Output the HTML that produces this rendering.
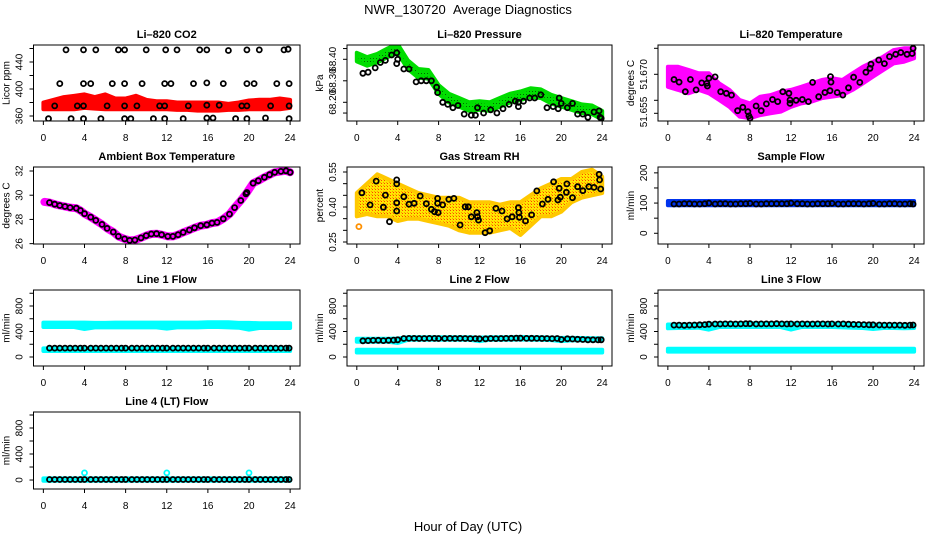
<!DOCTYPE html>
<html><head><meta charset="utf-8"><title>NWR_130720 Average Diagnostics</title>
<style>
html,body{margin:0;padding:0;background:#fff;}
svg{display:block;font-family:"Liberation Sans",Arial,sans-serif;}
</style></head>
<body>
<svg id="chart" width="936" height="540" viewBox="0 0 936 540">
<defs>
<pattern id="greenPat" width="3" height="3" patternUnits="userSpaceOnUse"><rect width="3" height="3" fill="#00e000"/><rect x="1" y="1" width="1" height="1" fill="#006600"/></pattern>
<pattern id="rhPat" width="3" height="3" patternUnits="userSpaceOnUse"><rect width="3" height="3" fill="#ffe600"/><rect width="1" height="1" fill="#ff4000"/><rect x="2" y="2" width="1" height="1" fill="#ff9a00"/></pattern>
</defs>
<text x="468" y="14" text-anchor="middle" font-size="13">NWR_130720 &#160;Average Diagnostics</text>
<text x="468" y="531" text-anchor="middle" font-size="13">Hour of Day (UTC)</text>
</svg>
<script>
// ---------- shared categories ----------
const bandHours = [0,1,2,3,4,5,6,7,8,9,10,11,12,13,14,15,16,17,18,19,20,21,22,23,24];
const flowHours = [0.6,1.1,1.6,2.1,2.6,3.1,3.6,4.0,4.6,5.1,5.6,6.1,6.6,7.1,7.6,8.0,8.6,9.1,9.6,10.1,10.6,11.1,11.6,12.0,12.6,13.1,13.6,14.1,14.6,15.1,15.6,16.0,16.6,17.1,17.6,18.1,18.6,19.1,19.6,20.0,20.6,21.1,21.6,22.1,22.6,23.1,23.6,23.9];
const xTicks = [0,4,8,12,16,20,24];

// ---------- CO2 ----------
const co2Lo = [370,370,370,370,372,371,370,370,370,370,370,370,370,369,369,368,368,368,369,369,370,370,370,370,372];
const co2Hi = [380,384,388,390,392,388,392,386,386,390,384,382,382,380,380,380,380,380,378,380,383,384,384,386,384];
const co2X = [2.2,3.9,5.1,7.3,7.9,10.0,11.9,13.0,15.2,15.9,18.0,19.8,21.0,23.4,23.8, 1.6,3.9,4.6,6.7,7.9,9.6,11.8,12.4,14.6,15.9,17.5,19.8,20.5,22.7,23.9, 1.1,3.3,3.9,6.2,7.9,9.1,11.3,11.8,14.1,15.9,17.1,19.3,19.8,22.1,23.9, 0.5,2.7,3.9,5.6,7.9,8.5,10.7,11.8,13.6,15.9,16.5,18.7,19.8,21.6,23.9];
const co2Y = [458,458,458,458,458,458,458,458,458,458,457,458,458,458,459, 408,408,408,408,408,408,408,408,408,409,408,408,408,408,408, 375,375,375,375,375,375,375,375,375,376,376,375,375,375,375, 356,356,356,356,356,356,356,356,356,357,357,356,356,357,356];

// ---------- Pressure ----------
const presHi = [68.43,68.41,68.425,68.45,68.47,68.395,68.355,68.35,68.28,68.24,68.22,68.20,68.205,68.20,68.22,68.24,68.25,68.265,68.26,68.235,68.22,68.205,68.19,68.185,68.16];
const presLo = [68.39,68.37,68.385,68.41,68.43,68.355,68.315,68.31,68.24,68.20,68.18,68.16,68.165,68.16,68.18,68.20,68.21,68.225,68.22,68.195,68.18,68.165,68.15,68.145,68.12];
const presX = [0.6,1.1,1.8,2.3,2.8,3.4,3.9,3.9,4.0,4.6,5.1,5.8,6.3,6.8,7.3,7.8,7.9,8.4,8.9,9.4,9.9,10.5,11.2,11.6,11.8,12.4,13.1,13.7,14.3,14.9,15.5,15.8,15.8,16.3,16.9,17.4,18.0,18.6,19.2,19.7,19.8,20.0,20.6,21.1,21.6,22.1,22.6,23.2,23.7,23.8,23.9];
const presY = [68.335,68.34,68.36,68.385,68.395,68.42,68.43,68.38,68.40,68.355,68.355,68.295,68.30,68.30,68.30,68.27,68.245,68.20,68.19,68.175,68.185,68.145,68.14,68.14,68.175,68.15,68.165,68.15,68.17,68.19,68.205,68.20,68.18,68.205,68.22,68.22,68.235,68.175,68.18,68.17,68.22,68.195,68.175,68.195,68.145,68.145,68.13,68.155,68.16,68.13,68.125];

// ---------- Li-820 Temperature ----------
const tempHi = [51.6729,51.6729,51.6717,51.6704,51.6704,51.6665,51.6640,51.6601,51.6588,51.6614,51.6620,51.6633,51.6640,51.6652,51.6665,51.6678,51.6685,51.6678,51.6704,51.6729,51.6748,51.6768,51.6793,51.6800,51.6800];
const tempLo = [51.6652,51.6640,51.6627,51.6640,51.6627,51.6601,51.6575,51.6537,51.6531,51.6543,51.6550,51.6556,51.6575,51.6588,51.6595,51.6608,51.6614,51.6620,51.6640,51.6665,51.6691,51.6717,51.6742,51.6748,51.6762];
const tempX = [0.6,1.1,1.7,2.2,2.75,3.3,3.8,3.85,4.0,4.6,5.15,5.7,6.2,6.8,7.3,7.8,7.9,8.0,8.6,9.1,9.6,10.2,10.7,11.2,11.8,11.9,11.9,12.5,13.1,13.7,14.1,14.7,15.3,15.8,15.85,15.9,16.5,17.05,17.6,18.1,18.7,19.3,19.7,19.8,20.55,21.1,21.6,22.2,22.7,23.3,23.8,23.9];
const tempY = [51.6680,51.6670,51.6633,51.6680,51.6640,51.6667,51.6665,51.6655,51.6685,51.6690,51.6633,51.6627,51.6620,51.6560,51.6573,51.6556,51.6540,51.6531,51.6578,51.6560,51.6586,51.6603,51.6595,51.6633,51.6627,51.6601,51.6588,51.6600,51.6603,51.6595,51.6669,51.6614,51.6630,51.6637,51.6691,51.6670,51.6630,51.6620,51.6648,51.6689,51.6669,51.6708,51.6723,51.6739,51.6755,51.6741,51.6768,51.6777,51.6784,51.6777,51.6780,51.6800];

// ---------- Ambient Box Temperature ----------
const ambX = [0.1,0.6,1.1,1.6,2.1,2.6,3.2,3.6,4.0,4.6,5.1,5.7,6.2,6.8,7.3,7.9,8.4,8.9,9.5,10.0,10.5,11.0,11.5,12.1,12.6,13.1,13.6,14.2,14.7,15.3,15.9,16.4,16.9,17.5,18.1,18.6,19.2,19.7,19.8,20.4,20.9,21.5,22.0,22.5,23.1,23.6,24.0];
const ambY = [29.45,29.39,29.26,29.15,29.07,28.98,28.93,28.74,28.47,28.19,27.92,27.59,27.26,26.96,26.60,26.39,26.27,26.30,26.47,26.66,26.80,26.82,26.74,26.60,26.60,26.74,26.93,27.13,27.31,27.48,27.56,27.70,27.75,28.05,28.44,28.98,29.56,30.11,30.22,30.99,31.20,31.48,31.69,31.89,31.97,32.02,31.89];

// ---------- Gas Stream RH ----------
const rhLo = [0.36,0.37,0.36,0.36,0.34,0.35,0.35,0.34,0.33,0.32,0.30,0.29,0.29,0.29,0.30,0.31,0.28,0.32,0.36,0.36,0.38,0.42,0.44,0.45,0.46];
const rhHi = [0.46,0.50,0.54,0.52,0.50,0.48,0.46,0.45,0.44,0.44,0.44,0.42,0.42,0.42,0.41,0.42,0.42,0.45,0.48,0.50,0.52,0.52,0.55,0.56,0.53];
const rhX = [0.5,1.3,1.9,2.6,2.8,3.2,3.9,3.9,3.9,3.9,4.6,5.1,5.6,6.2,6.8,7.3,7.6,7.9,7.9,7.95,8.4,9.0,9.5,10.1,10.6,10.9,11.2,11.75,11.8,11.9,12.55,13.0,13.6,14.2,14.7,15.2,15.8,15.85,15.9,16.5,17.1,17.6,18.15,18.7,19.25,19.67,19.8,19.9,20.5,20.55,21.1,21.6,22.1,22.7,23.2,23.7,23.75,23.85];
const rhY = [0.461,0.409,0.511,0.399,0.451,0.337,0.516,0.499,0.418,0.383,0.444,0.412,0.416,0.447,0.414,0.390,0.380,0.437,0.416,0.376,0.409,0.433,0.437,0.323,0.401,0.401,0.358,0.376,0.358,0.344,0.290,0.298,0.394,0.383,0.349,0.358,0.397,0.376,0.356,0.340,0.366,0.469,0.413,0.433,0.508,0.430,0.480,0.442,0.463,0.499,0.440,0.487,0.470,0.487,0.484,0.540,0.516,0.477];
const rhOutX = [0.2];
const rhOutY = [0.316];

// ---------- Sample Flow ----------
const sampleHi = [107,107,107,107,107,107,107,107,107,107,107,107,107,107,107,107,107,107,107,107,107,107,107,107,107];
const sampleLo = [93,93,93,93,93,93,93,93,93,93,93,93,93,93,93,93,93,93,93,93,93,93,93,93,93];
const sampleBlack = [97,97,98,98,97,97,98,100,97,98,98,97,97,98,98,99,97,97,98,98,98,98,98,100,98,98,97,97,98,98,98,99,97,97,98,98,98,97,98,99,97,97,98,98,97,97,98,97];

// ---------- Line 1 Flow ----------
const line1UpHi = [540,540,540,540,540,535,535,540,540,540,540,540,540,540,540,540,545,545,545,535,535,530,530,530,530];
const line1UpLo = [470,470,470,470,440,465,465,465,465,465,465,465,445,465,465,465,470,470,465,460,430,455,455,455,455];
const line1LoHi = [135,135,135,135,135,135,135,135,135,135,135,135,135,135,135,135,135,135,135,135,135,135,135,135,135];
const line1LoLo = [95,95,95,95,95,95,95,95,95,95,95,95,95,95,95,95,95,95,95,95,95,95,95,95,95];
const line1Black = [140,140,140,140,140,140,140,140,140,140,140,140,140,140,140,140,140,140,140,140,140,140,140,140,140,140,140,140,140,140,140,140,140,140,140,140,140,140,140,140,140,140,140,140,140,140,140,140];

// ---------- Line 2 Flow ----------
const line2UpHi = [285,285,285,285,290,310,310,310,310,310,310,310,305,310,310,310,315,310,310,305,300,300,298,295,295];
const line2UpLo = [240,240,240,240,220,270,270,270,270,270,270,270,250,270,270,270,275,270,270,265,250,260,260,258,258];
const line2LoHi = [115,115,115,115,115,115,115,115,115,115,115,115,115,115,115,115,115,115,115,115,115,115,115,115,115];
const line2LoLo = [70,70,70,70,70,70,70,70,70,70,70,70,70,70,70,70,70,70,70,70,70,70,70,70,70];
const line2Black = [255,258,260,262,258,262,265,270,290,292,292,290,290,292,292,290,290,292,290,292,290,288,288,285,285,290,288,290,292,293,295,295,292,293,292,290,290,288,290,275,285,282,278,275,270,270,268,270];

// ---------- Line 3 Flow ----------
const line3UpHi = [510,510,510,515,520,530,530,530,530,530,530,530,530,530,530,530,530,525,520,515,510,510,510,505,505];
const line3UpLo = [450,455,455,460,430,470,470,470,470,470,470,470,430,470,470,470,470,465,460,455,440,455,455,450,455];
const line3LoHi = [130,130,130,130,130,130,130,130,130,130,130,130,130,130,130,130,130,130,130,130,130,130,130,130,130];
const line3LoLo = [85,85,85,85,85,85,85,85,85,85,85,85,85,85,85,85,85,85,85,85,85,85,85,85,85];
const line3Black = [500,500,498,500,502,505,508,515,518,518,520,520,518,520,522,522,518,520,520,520,522,520,518,520,518,520,518,518,520,520,518,520,518,520,515,512,510,508,505,505,502,500,500,500,500,498,500,502];

// ---------- Line 4 Flow ----------
const line4Hi = [25,25,25,25,25,25,25,25,25,25,25,25,25,25,25,25,25,25,25,25,25,25,25,25,25];
const line4Lo = [-10,-10,-10,-10,-10,-10,-10,-10,-10,-10,-10,-10,-10,-10,-10,-10,-10,-10,-10,-10,-10,-10,-10,-10,-10];
const line4Black = [8,8,8,8,8,8,8,8,8,8,8,8,8,8,8,8,8,8,8,8,8,8,8,8,8,8,8,8,8,8,8,8,8,8,8,8,8,8,8,8,8,8,8,8,8,8,8,8];
const line4CyanX = [4,12,20];
const line4CyanY = [110,110,110];

// ---------- layout ----------
const svg = document.getElementById('chart');
const NS = 'http://www.w3.org/2000/svg';
function mk(tag, attrs, parent){
  const e = document.createElementNS(NS, tag);
  for (const k in attrs) e.setAttribute(k, attrs[k]);
  (parent || svg).appendChild(e);
  return e;
}
const cols = [[33.5,300],[347,612],[658,924]];
const rows = [[45,121],[167,244],[290,366],[412,489]];
const flowTicks = [0,200,400,600,800,1000];
const flowLabels = [[0,'0'],[400,'400'],[800,'800']];

const panels = [
  {key:'co2', title:'Li\u2013820 CO2', ylab:'Licor ppm', c:0, r:0, ymin:352.6, ymax:465.2,
   ticks:[360,380,400,420,440,460], labels:[[360,'360'],[400,'400'],[440,'440']],
   bands:[{lo:co2Lo, hi:co2Hi, fill:'#ff0000', name:'co2-band'}], pts:[{x:co2X, y:co2Y, color:'#000', name:'co2-point'}]},
  {key:'pressure', title:'Li\u2013820 Pressure', ylab:'kPa', c:1, r:0, ymin:68.113, ymax:68.4665,
   ticks:[68.15,68.20,68.30,68.40,68.45], labels:[[68.20,'68.20'],[68.30,'68.30'],[68.40,'68.40']],
   bands:[{lo:presLo, hi:presHi, fill:'url(#greenPat)', stroke:'#00dd00', name:'pressure-band'}], pts:[{x:presX, y:presY, color:'#000', name:'pressure-point'}]},
  {key:'temp', title:'Li\u2013820 Temperature', ylab:'degrees C', c:2, r:0, ymin:51.65204, ymax:51.68127,
   ticks:[51.655,51.660,51.670,51.680], labels:[[51.6555,'51.655'],[51.670,'51.670']],
   bands:[{lo:tempLo, hi:tempHi, fill:'#ff00ff', name:'temperature-band'}], pts:[{x:tempX, y:tempY, color:'#000', name:'temperature-point'}]},
  {key:'ambient', title:'Ambient Box Temperature', ylab:'degrees C', c:0, r:1, ymin:25.97, ymax:32.33,
   ticks:[26,28,30,32], labels:[[26,'26'],[28,'28'],[30,'30'],[32,'32']],
   line:{x:ambX, y:ambY, color:'#ff00ff', name:'ambient-band'}, pts:[{x:ambX.slice(1), y:ambY.slice(1), color:'#000', name:'ambient-point'}]},
  {key:'rh', title:'Gas Stream RH', ylab:'percent', c:1, r:1, ymin:0.2414, ymax:0.5714,
   ticks:[0.25,0.30,0.35,0.40,0.45,0.50,0.55], labels:[[0.25,'0.25'],[0.40,'0.40'],[0.55,'0.55']],
   bands:[{lo:rhLo, hi:rhHi, fill:'url(#rhPat)', stroke:'#ffc800', name:'rh-band'}],
   pts:[{x:rhOutX, y:rhOutY, color:'#ff9000', name:'rh-outlier'},{x:rhX, y:rhY, color:'#000', name:'rh-point'}]},
  {key:'sample', title:'Sample Flow', ylab:'ml/min', c:2, r:1, ymin:-35.5, ymax:219.4,
   ticks:[0,50,100,150,200], labels:[[0,'0'],[100,'100'],[200,'200']],
   bands:[{lo:sampleLo, hi:sampleHi, fill:'#0033ee', name:'sample-flow-band'}], pts:[{x:flowHours, y:sampleBlack, color:'#000', name:'sample-flow-point'}]},
  {key:'line1', title:'Line 1 Flow', ylab:'ml/min', c:0, r:2, ymin:-141, ymax:1051, ticks:flowTicks, labels:flowLabels,
   bands:[{lo:line1UpLo, hi:line1UpHi, fill:'#00ffff', name:'line1-upper-band'},{lo:line1LoLo, hi:line1LoHi, fill:'#00ffff', name:'line1-lower-band'}],
   pts:[{x:flowHours, y:line1Black, color:'#000', name:'line1-point'}]},
  {key:'line2', title:'Line 2 Flow', ylab:'ml/min', c:1, r:2, ymin:-141, ymax:1051, ticks:flowTicks, labels:flowLabels,
   bands:[{lo:line2UpLo, hi:line2UpHi, fill:'#00ffff', name:'line2-upper-band'},{lo:line2LoLo, hi:line2LoHi, fill:'#00ffff', name:'line2-lower-band'}],
   pts:[{x:flowHours, y:line2Black, color:'#000', name:'line2-point'}]},
  {key:'line3', title:'Line 3 Flow', ylab:'ml/min', c:2, r:2, ymin:-141, ymax:1051, ticks:flowTicks, labels:flowLabels,
   bands:[{lo:line3UpLo, hi:line3UpHi, fill:'#00ffff', name:'line3-upper-band'},{lo:line3LoLo, hi:line3LoHi, fill:'#00ffff', name:'line3-lower-band'}],
   pts:[{x:flowHours, y:line3Black, color:'#000', name:'line3-point'}]},
  {key:'line4', title:'Line 4 (LT) Flow', ylab:'ml/min', c:0, r:3, ymin:-138, ymax:1046, ticks:flowTicks, labels:flowLabels,
   bands:[{lo:line4Lo, hi:line4Hi, fill:'#00ffff', name:'line4-band'}],
   pts:[{x:line4CyanX, y:line4CyanY, color:'#00ffff', name:'line4-cyan-point'},{x:flowHours, y:line4Black, color:'#000', name:'line4-point'}]}
];

panels.forEach(p => {
  const L = cols[p.c][0], R = cols[p.c][1], T = rows[p.r][0], B = rows[p.r][1];
  const sx = h => L + (h + 0.96) / 25.92 * (R - L);
  const sy = v => T + (p.ymax - v) / (p.ymax - p.ymin) * (B - T);
  const g = mk('g', {});
  
  
  const clipId = 'clip-' + p.key;
  const cp = mk('clipPath', {id: clipId}, g);
  mk('rect', {x:L, y:T, width:R-L, height:B-T}, cp);
  const plot = mk('g', {'clip-path':'url(#' + clipId + ')'}, g);
  
  

  (p.bands || []).forEach(b => {
    const top = bandHours.map((h, i) => sx(h).toFixed(1) + ',' + sy(b.hi[i]).toFixed(1));
    const bot = bandHours.map((h, i) => sx(h).toFixed(1) + ',' + sy(b.lo[i]).toFixed(1)).reverse();
    const poly = mk('polygon', {points: top.concat(bot).join(' '), fill: b.fill, stroke: b.stroke || b.fill, 'stroke-width': 4, 'stroke-linejoin':'round'}, plot);
    
    
  });
  if (p.line) {
    const pl = mk('polyline', {points: p.line.x.map((h, i) => sx(h).toFixed(1) + ',' + sy(p.line.y[i]).toFixed(1)).join(' '), fill:'none', stroke:p.line.color, 'stroke-width':8, 'stroke-linejoin':'round', 'stroke-linecap':'round'}, plot);
    
    
  }
  (p.pts || []).forEach(s => {
    s.x.forEach((h, i) => {
      const c = mk('circle', {cx: sx(h).toFixed(1), cy: sy(s.y[i]).toFixed(1), r: 2.5, fill:'none', stroke:s.color, 'stroke-width':1.8}, plot);
      
      
    });
  });

  const box = mk('rect', {x:L, y:T, width:R-L, height:B-T, fill:'none', stroke:'#000', 'stroke-width':1}, g);
  
  

  const xa = mk('g', {}, g);
  
  
  mk('line', {x1:sx(0), x2:sx(24), y1:B, y2:B, stroke:'#000'}, xa);
  xTicks.forEach(t => {
    mk('line', {x1:sx(t), x2:sx(t), y1:B, y2:B + 4, stroke:'#000'}, xa);
    const tx = mk('text', {x:sx(t), y:B + 20, 'text-anchor':'middle', 'font-size':10}, xa);
    tx.textContent = t;
    
    
  });
  const ya = mk('g', {}, g);
  
  
  mk('line', {x1:L, x2:L, y1:sy(p.ticks[0]), y2:sy(p.ticks[p.ticks.length - 1]), stroke:'#000'}, ya);
  p.ticks.forEach(t => { mk('line', {x1:L - 4, x2:L, y1:sy(t), y2:sy(t), stroke:'#000'}, ya); });
  p.labels.forEach(([v, s]) => {
    const yy = sy(v);
    const tx = mk('text', {x:L - 11, y:yy, 'text-anchor':'middle', 'font-size':10, transform:'rotate(-90 ' + (L - 11) + ' ' + yy + ')'}, ya);
    tx.textContent = s;
    
    
  });
  const yl = mk('text', {x:L - 24, y:(T + B) / 2, 'text-anchor':'middle', 'font-size':10, transform:'rotate(-90 ' + (L - 24) + ' ' + ((T + B) / 2) + ')'}, g);
  yl.textContent = p.ylab;
  
  
  const tt = mk('text', {x:(L + R) / 2, y:T - 7, 'text-anchor':'middle', 'font-size':11, 'font-weight':'bold'}, g);
  tt.textContent = p.title;
  
  
});
</script>
</body></html>
